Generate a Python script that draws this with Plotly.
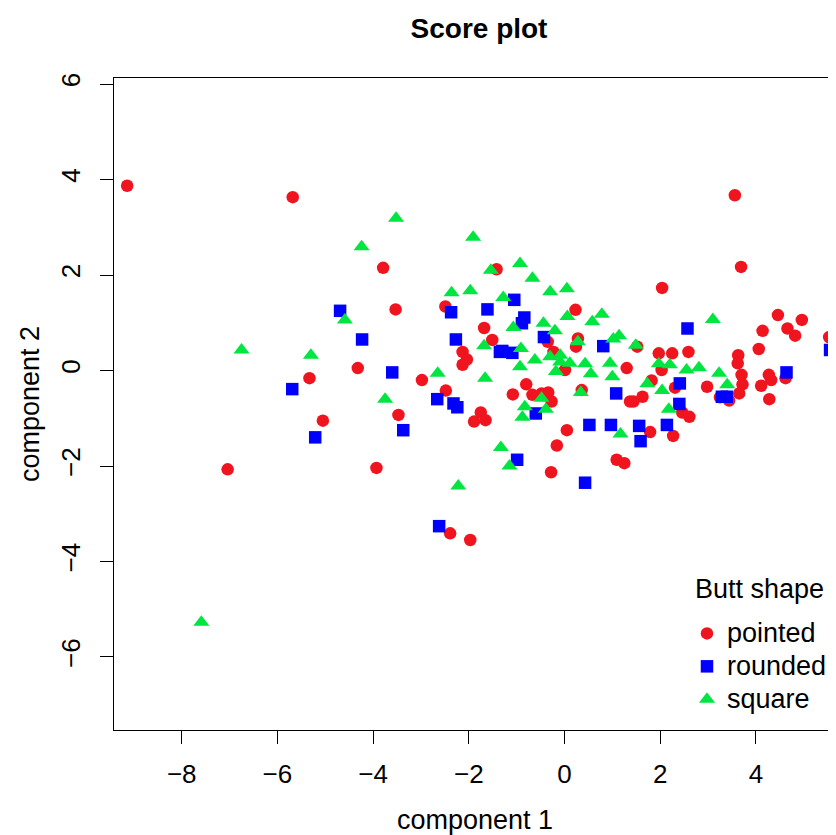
import plotly.graph_objects as go

# ---- data ----
pointed_x = [-9.14, -5.68, -5.33, -5.05, -7.04, -3.79, -1.42, -3.53, -2.49, -1.68, -1.51, -2.13,
             -2.04, -2.13, -4.32, -2.98, -2.48, -3.47, -1.75, -1.89, -1.65, -3.93, -2.39, -1.97,
             0.23, -0.35, 0.28, 0.24, -0.23, 1.30, 0.01, -0.80, -1.08, -0.67, -0.48, -0.34,
             -0.27, 0.36, 1.37, 0.05, -0.16, -0.28, 1.09, 1.25, 3.56, 3.69, 2.04, 4.46,
             4.96, 4.14, 4.66, 4.82, 5.53, 4.06, 3.63, 3.62, 2.59, 2.25, 1.97, 1.52,
             2.03, 3.70, 4.27, 4.32, 4.11, 4.62, 3.72, 3.65, 3.25, 3.44, 2.98, 4.28,
             1.82, 2.31, 1.44, 1.63, 2.46, 2.61, 1.79, 2.27]
pointed_y = [3.87, 3.63, -0.16, -1.05, -2.07, 2.15, 2.12, 1.28, 1.34, 0.89, 0.64, 0.39,
             0.23, 0.12, 0.05, -0.20, -0.42, -0.93, -0.88, -1.07, -1.04, -2.04, -3.41, -3.55,
             1.27, 0.60, 0.67, 0.50, 0.39, 0.05, 0.01, -0.29, -0.50, -0.51, -0.48, -0.46,
             -0.65, -0.41, -0.65, -1.25, -1.57, -2.13, -1.87, -1.94, 3.67, 2.17, 1.73, 1.16,
             1.06, 0.83, 0.88, 0.73, 0.70, 0.45, 0.32, 0.15, 0.39, 0.36, 0.36, 0.50,
             0.01, -0.09, -0.09, -0.20, -0.32, -0.16, -0.29, -0.48, -0.56, -0.63, -0.34, -0.60,
             -0.21, -0.36, -0.65, -0.55, -0.88, -0.97, -1.29, -1.37]

rounded_x = [-4.69, -5.69, -5.21, -2.37, -1.61, -4.23, -2.27, -1.35, -3.60, -2.66, -2.32, -2.24,
             -3.37, -2.62, -1.05, -0.84, -0.89, -0.43, -1.30, -1.09, 0.81, -0.60, 1.08, 0.52,
             0.97, -0.99, 0.43, 2.57, 5.55, 4.64, 3.39, 3.29, 2.41, 2.40, 1.56, 2.14, 1.59]
rounded_y = [1.25, -0.39, -1.40, 1.22, 1.28, 0.65, 0.65, 0.39, -0.04, -0.60, -0.69, -0.77,
             -1.25, -3.26, 1.48, 1.11, 0.99, 0.70, 0.41, 0.37, 0.51, -0.90, -0.48, -1.14,
             -1.14, -1.87, -2.35, 0.88, 0.43, -0.04, -0.55, -0.55, -0.27, -0.70, -1.16, -1.14, -1.48]

square_x = [-4.59, -6.75, -5.30, -3.52, -4.24, -1.91, -1.54, -2.36, -1.97, -1.68, -2.65, -1.66,
            -3.75, -2.22, -0.93, -0.67, -0.30, 0.05, -1.28, 0.06, 0.78, 0.58, -0.44, -1.07,
            -0.20, 0.28, -0.91, 1.02, 1.14, -0.30, -0.09, -0.09, -0.62, 0.11, 0.43, 0.95,
            -0.93, -0.18, 0.55, 1.00, -0.48, -0.83, -0.39, -0.88, 0.34, 1.17, -1.33, -1.15,
            -7.59, 3.10, 1.49, 1.97, 2.20, 2.55, 2.81, 3.23, 3.40, 1.73, 2.04, 2.18]
square_y = [1.06, 0.43, 0.32, 3.19, 2.59, 2.79, 2.10, 1.63, 1.67, 0.52, -0.06, -0.16,
            -0.60, -2.42, 2.24, 1.93, 1.65, 1.71, 1.53, 1.13, 1.18, 1.02, 0.99, 0.90,
            0.83, 0.60, 0.46, 0.66, 0.73, 0.29, 0.32, 0.18, 0.22, 0.15, 0.14, 0.15,
            0.08, -0.02, -0.07, -0.13, -0.58, -0.76, -0.81, -0.98, -0.46, -1.33, -1.61, -2.00,
            -5.27, 1.07, 0.53, 0.14, 0.12, 0.01, 0.06, -0.06, -0.30, -0.28, -0.42, -0.81]

x_ticks = [-8, -6, -4, -2, 0, 2, 4]
y_ticks = [-6, -4, -2, 0, 2, 4, 6]
legend_title = "Butt shape"

FONT = "Liberation Sans, Arial, Helvetica, sans-serif"
RED, BLUE, GREEN = "#F0141E", "#0000FF", "#00E640"


def legend_name(s):
    return "<span style='font-size:27px'>" + s + "</span>"


fig = go.Figure()
fig.add_trace(go.Scatter(x=pointed_x, y=pointed_y, mode="markers", name=legend_name("pointed"),
                         marker=dict(symbol="circle", size=12.5, color=RED, line=dict(width=0))))
fig.add_trace(go.Scatter(x=rounded_x, y=rounded_y, mode="markers", name=legend_name("rounded"),
                         marker=dict(symbol="square", size=12.5, color=BLUE, line=dict(width=0))))
fig.add_trace(go.Scatter(x=square_x, y=square_y, mode="markers", name=legend_name("square"),
                         marker=dict(symbol="triangle-up", size=14, color=GREEN, line=dict(width=0))))

axis_common = dict(showgrid=False, zeroline=False, showline=True, linecolor="black", linewidth=1,
                   ticks="outside", ticklen=13, tickwidth=1, tickcolor="black",
                   tickfont=dict(family=FONT, size=26, color="black"))

W, H = 828, 827  # page body adds an 8px offset
fig.update_layout(
    width=W, height=H,
    margin=dict(l=106, r=0, t=70, b=H - 70 - 652, pad=0),
    paper_bgcolor="white", plot_bgcolor="white",
    font=dict(family=FONT, color="black"),
    title=dict(text="<b>Score plot</b>", x=471 / W, xanchor="center", xref="container",
               y=1 - 20 / H, yanchor="middle", yref="container",
               font=dict(family=FONT, size=28, color="black")),
    xaxis=dict(range=[-9.415, 5.674], tickvals=x_ticks, mirror=True, ticklabelstandoff=8,
               title=dict(text="component 1", font=dict(family=FONT, size=27), standoff=22),
               **axis_common),
    yaxis=dict(range=[-7.529, 6.126], tickvals=y_ticks, tickangle=-90, mirror=False,
               ticklabelstandoff=10,
               title=dict(text="component 2", font=dict(family=FONT, size=27), standoff=8),
               **axis_common),
    legend=dict(x=0.8047, xanchor="left", y=0.181, yanchor="top",
                bgcolor="rgba(0,0,0,0)", borderwidth=0,
                font=dict(family=FONT, size=23, color="black"), indentation=-8),
    annotations=[dict(text=legend_title, xref="paper", yref="paper",
                      x=(693 - 114) / 722, y=(730 - 589) / 652,
                      xanchor="left", yanchor="middle", showarrow=False,
                      font=dict(family=FONT, size=27, color="black"))],
)

fig.write_html("out.html")
